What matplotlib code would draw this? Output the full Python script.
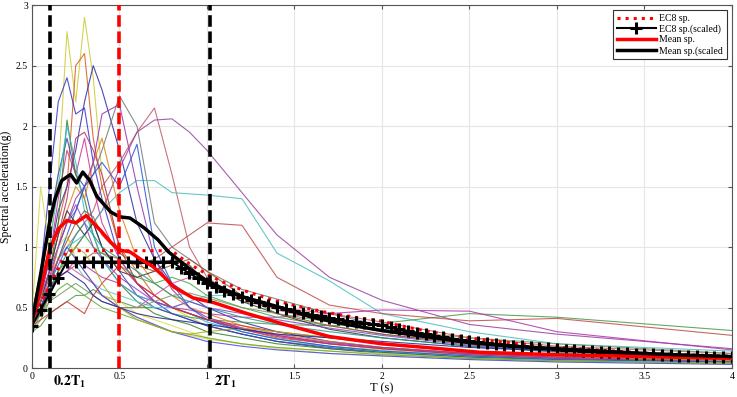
#!/usr/bin/env python3
"""
Spectral acceleration of the selected records vs EC8 spectrum
"""

import numpy as np
import matplotlib
matplotlib.use('Agg')
import matplotlib.pyplot as plt

plt.rcParams['font.family'] = ['Liberation Serif', 'DejaVu Serif']
plt.rcParams['mathtext.fontset'] = 'stix'

# Periods (s) used for the EC8 spectra (0.05 s step)
T_ec8 = np.round(np.arange(0, 4.001, 0.05), 2)

ec8_sa = [0.39, 0.535, 0.68, 0.825,
          0.97, 0.97, 0.97, 0.97, 0.97, 0.97, 0.97, 0.97, 0.97, 0.97, 0.97, 0.97, 0.97,
          0.913, 0.862, 0.817, 0.776, 0.739, 0.705, 0.675, 0.647, 0.621, 0.597, 0.575,
          0.554, 0.535, 0.517, 0.501, 0.485, 0.470, 0.456, 0.443, 0.431, 0.419, 0.408,
          0.398, 0.388, 0.369, 0.352, 0.336, 0.321, 0.307, 0.293, 0.281, 0.269, 0.259,
          0.248, 0.239, 0.230, 0.221, 0.213, 0.205, 0.198, 0.191, 0.185, 0.178, 0.172,
          0.167, 0.162, 0.156, 0.152, 0.147, 0.143, 0.138, 0.134, 0.130, 0.127, 0.123,
          0.120, 0.116, 0.113, 0.110, 0.107, 0.105, 0.102, 0.099, 0.097]

ec8_scaled_sa = [0.35, 0.483, 0.615, 0.748,
                 0.88, 0.88, 0.88, 0.88, 0.88, 0.88, 0.88, 0.88, 0.88, 0.88, 0.88, 0.88, 0.88,
                 0.828, 0.782, 0.741, 0.704, 0.670, 0.640, 0.612, 0.587, 0.563, 0.542, 0.521,
                 0.503, 0.486, 0.469, 0.454, 0.440, 0.427, 0.414, 0.402, 0.391, 0.381, 0.371,
                 0.361, 0.352, 0.335, 0.319, 0.305, 0.291, 0.278, 0.266, 0.255, 0.244, 0.235,
                 0.225, 0.217, 0.208, 0.200, 0.193, 0.186, 0.180, 0.173, 0.167, 0.162, 0.156,
                 0.151, 0.147, 0.142, 0.138, 0.133, 0.129, 0.125, 0.122, 0.118, 0.115, 0.112,
                 0.109, 0.106, 0.103, 0.100, 0.098, 0.095, 0.093, 0.090, 0.088]

# Mean spectrum of the records (red) and scaled mean (black)
T_mean = [0, 0.05, 0.1, 0.15, 0.2, 0.25, 0.31, 0.39, 0.45, 0.5, 0.56, 0.62, 0.69, 0.75,
          0.81, 0.92, 1.04, 1.23, 1.42, 1.7, 2.0, 2.25, 2.56, 3.0, 3.5, 4.0]
mean_sa = [0.38, 0.65, 0.98, 1.15, 1.22, 1.2, 1.26, 1.14, 1.04, 0.975, 0.96, 0.9, 0.84,
           0.76, 0.67, 0.58, 0.54, 0.45, 0.37, 0.26, 0.2, 0.17, 0.13, 0.11, 0.095, 0.08]

T_mean_sc = [0, 0.05, 0.1, 0.13, 0.17, 0.22, 0.255, 0.29, 0.33, 0.37, 0.45, 0.5, 0.56,
             0.64, 0.72, 0.78, 0.85, 0.9, 1.0, 1.1, 1.2, 1.3, 1.42, 1.6, 1.8, 2.0, 2.25,
             2.5, 2.75, 3.0, 3.25, 3.5, 3.75, 4.0]
mean_sc_sa = [0.38, 0.78, 1.2, 1.39, 1.55, 1.6, 1.53, 1.62, 1.55, 1.42, 1.29, 1.25, 1.24,
              1.16, 1.06, 0.96, 0.88, 0.82, 0.72, 0.65, 0.59, 0.55, 0.50, 0.42, 0.36, 0.31,
              0.26, 0.21, 0.18, 0.16, 0.14, 0.12, 0.105, 0.095]

# Individual record spectra, all on the same period grid
T_rec = [0, 0.05, 0.1, 0.15, 0.2, 0.25, 0.3, 0.35, 0.4, 0.5, 0.6, 0.7, 0.8, 0.9, 1.0,
         1.2, 1.4, 1.7, 2.0, 2.5, 3.0, 4.0]
records = [
    [0.5, 0.7, 1.0, 1.6, 2.78, 2.2, 2.9, 2.4, 1.6, 1.0, 0.7, 0.6, 0.5, 0.42, 0.35, 0.28, 0.22, 0.18, 0.15, 0.1, 0.08, 0.05],
    [0.4, 0.6, 0.9, 1.2, 1.5, 2.5, 2.6, 1.9, 1.5, 1.0, 0.8, 0.6, 0.5, 0.45, 0.4, 0.32, 0.25, 0.2, 0.16, 0.12, 0.09, 0.06],
    [0.45, 0.8, 1.5, 2.2, 2.4, 2.1, 2.15, 1.7, 1.4, 0.9, 0.7, 0.55, 0.45, 0.4, 0.35, 0.28, 0.22, 0.16, 0.12, 0.08, 0.06, 0.04],
    [0.4, 0.6, 0.9, 1.3, 1.5, 1.8, 2.2, 2.5, 2.3, 1.8, 1.2, 0.9, 0.7, 0.6, 0.5, 0.38, 0.3, 0.22, 0.17, 0.12, 0.09, 0.06],
    [0.4, 0.55, 0.8, 1.0, 1.2, 1.3, 1.5, 1.6, 1.8, 2.25, 2.0, 1.2, 1.0, 0.9, 0.8, 0.65, 0.57, 0.45, 0.35, 0.22, 0.16, 0.1],
    [0.4, 0.5, 0.7, 0.9, 1.0, 1.1, 1.2, 1.3, 1.5, 1.7, 1.95, 2.15, 1.6, 1.0, 0.75, 0.55, 0.5, 0.45, 0.38, 0.25, 0.18, 0.12],
    [0.35, 0.45, 0.6, 0.8, 0.9, 1.0, 1.1, 1.2, 1.3, 1.65, 1.95, 2.05, 2.06, 1.95, 1.8, 1.45, 1.1, 0.75, 0.56, 0.36, 0.28, 0.16],
    [0.35, 0.5, 0.7, 0.9, 1.0, 1.05, 1.1, 1.2, 1.3, 1.45, 1.55, 1.55, 1.45, 1.44, 1.43, 1.4, 0.95, 0.72, 0.45, 0.3, 0.2, 0.14],
    [0.3, 0.35, 0.45, 0.5, 0.55, 0.6, 0.6, 0.65, 0.6, 0.55, 0.5, 0.5, 0.45, 0.42, 0.4, 0.38, 0.36, 0.35, 0.37, 0.45, 0.42, 0.31],
    [0.35, 0.45, 0.6, 0.75, 0.8, 0.85, 0.9, 0.95, 0.95, 0.9, 0.85, 0.9, 1.0, 1.1, 1.2, 1.18, 0.75, 0.52, 0.45, 0.39, 0.41, 0.27],
    [0.35, 0.45, 0.6, 0.75, 0.8, 0.9, 0.85, 0.8, 0.75, 0.7, 0.6, 0.55, 0.5, 0.48, 0.45, 0.42, 0.42, 0.45, 0.48, 0.47, 0.3, 0.15],
    [0.45, 1.5, 1.0, 0.9, 1.1, 0.9, 0.8, 0.7, 0.6, 0.5, 0.42, 0.35, 0.3, 0.27, 0.24, 0.2, 0.16, 0.12, 0.1, 0.07, 0.05, 0.03],
    [0.4, 0.7, 1.2, 1.6, 1.9, 1.6, 1.5, 1.2, 1.0, 0.8, 0.6, 0.5, 0.45, 0.4, 0.35, 0.28, 0.22, 0.17, 0.13, 0.09, 0.07, 0.05],
    [0.4, 0.6, 0.9, 1.4, 1.8, 1.6, 1.9, 1.5, 1.2, 0.9, 0.7, 0.6, 0.5, 0.45, 0.4, 0.33, 0.27, 0.2, 0.16, 0.11, 0.08, 0.05],
    [0.35, 0.55, 0.8, 1.2, 2.05, 1.6, 1.4, 1.1, 0.9, 0.7, 0.55, 0.45, 0.4, 0.36, 0.3, 0.25, 0.2, 0.16, 0.13, 0.09, 0.07, 0.05],
    [0.35, 0.6, 1.0, 1.5, 2.0, 1.7, 1.3, 1.1, 0.9, 0.7, 0.6, 0.55, 0.5, 0.45, 0.38, 0.3, 0.24, 0.18, 0.14, 0.1, 0.07, 0.05],
    [0.4, 0.6, 0.8, 1.1, 1.4, 1.9, 1.95, 1.8, 1.6, 1.0, 0.7, 0.55, 0.5, 0.45, 0.4, 0.32, 0.26, 0.2, 0.16, 0.11, 0.08, 0.05],
    [0.35, 0.5, 0.7, 1.0, 1.3, 1.5, 1.4, 1.7, 1.9, 1.3, 0.9, 0.7, 0.6, 0.5, 0.45, 0.35, 0.28, 0.22, 0.17, 0.12, 0.09, 0.06],
    [0.4, 0.55, 0.75, 1.0, 1.2, 1.4, 1.5, 1.7, 2.1, 2.18, 1.5, 0.9, 0.65, 0.5, 0.42, 0.33, 0.27, 0.21, 0.17, 0.12, 0.09, 0.06],
    [0.35, 0.5, 0.7, 0.9, 1.1, 1.3, 1.5, 1.6, 1.7, 1.5, 1.85, 1.0, 0.7, 0.5, 0.4, 0.3, 0.24, 0.18, 0.14, 0.1, 0.07, 0.05],
    [0.3, 0.45, 0.6, 0.8, 0.9, 1.0, 1.1, 1.0, 0.95, 0.85, 0.75, 0.7, 0.75, 0.7, 0.6, 0.5, 0.42, 0.35, 0.28, 0.2, 0.14, 0.08],
    [0.4, 0.6, 0.8, 1.0, 1.1, 0.9, 0.8, 0.7, 0.6, 0.55, 0.45, 0.4, 0.35, 0.3, 0.25, 0.2, 0.17, 0.14, 0.12, 0.08, 0.06, 0.04],
    [0.4, 0.55, 0.8, 1.1, 1.3, 1.2, 1.1, 1.2, 1.0, 0.8, 0.75, 0.8, 0.9, 0.85, 0.7, 0.55, 0.45, 0.32, 0.25, 0.18, 0.14, 0.09],
    [0.35, 0.5, 0.65, 0.8, 0.9, 0.85, 0.75, 0.7, 0.65, 0.6, 0.55, 0.5, 0.5, 0.55, 0.6, 0.6, 0.5, 0.4, 0.3, 0.22, 0.16, 0.1],
    [0.4, 0.55, 0.75, 0.9, 0.85, 0.8, 0.75, 0.7, 0.6, 0.5, 0.5, 0.6, 0.7, 0.75, 0.72, 0.6, 0.48, 0.38, 0.3, 0.2, 0.15, 0.1],
    [0.35, 0.5, 0.7, 0.85, 1.0, 0.9, 0.8, 0.7, 0.6, 0.5, 0.42, 0.36, 0.3, 0.26, 0.22, 0.18, 0.15, 0.12, 0.1, 0.07, 0.05, 0.03],
    [0.3, 0.4, 0.55, 0.65, 0.7, 0.65, 0.6, 0.55, 0.5, 0.45, 0.4, 0.35, 0.3, 0.28, 0.25, 0.2, 0.17, 0.14, 0.11, 0.08, 0.06, 0.04],
    [0.35, 0.4, 0.45, 0.5, 0.55, 0.5, 0.45, 0.6, 0.7, 0.85, 0.7, 0.6, 0.5, 0.45, 0.4, 0.35, 0.3, 0.25, 0.2, 0.14, 0.1, 0.07],
    [0.35, 0.5, 0.65, 0.8, 0.9, 1.0, 0.95, 0.85, 0.7, 0.5, 0.4, 0.35, 0.3, 0.28, 0.3, 0.33, 0.3, 0.25, 0.2, 0.14, 0.1, 0.06],
    [0.4, 0.55, 0.7, 0.9, 1.05, 1.2, 1.3, 1.25, 1.1, 0.95, 0.85, 0.8, 0.85, 0.9, 0.8, 0.6, 0.45, 0.35, 0.28, 0.2, 0.14, 0.09],
    [0.35, 0.5, 0.65, 0.8, 0.95, 1.1, 1.2, 1.1, 1.0, 0.9, 0.8, 0.7, 0.6, 0.55, 0.5, 0.42, 0.36, 0.3, 0.25, 0.18, 0.13, 0.08],
    [0.4, 0.6, 0.8, 1.0, 1.2, 1.35, 1.2, 1.0, 0.9, 0.75, 0.65, 0.55, 0.5, 0.55, 0.5, 0.45, 0.4, 0.33, 0.27, 0.19, 0.14, 0.09],
    [0.35, 0.45, 0.55, 0.6, 0.65, 0.7, 0.65, 0.6, 0.55, 0.5, 0.5, 0.55, 0.6, 0.62, 0.58, 0.5, 0.45, 0.38, 0.32, 0.25, 0.2, 0.12],
    [0.4, 0.5, 0.65, 0.75, 0.8, 0.75, 0.7, 0.6, 0.55, 0.5, 0.45, 0.42, 0.4, 0.38, 0.36, 0.32, 0.28, 0.25, 0.22, 0.17, 0.14, 0.1],
]
record_colors = [
    '#cccc33', '#d9591a', '#3333cc', '#2b2ba6', '#777777', '#c05a66', '#9a40a0',
    '#4cbfbf', '#4c994c', '#c04c4c', '#b033b0', '#d9d94c', '#3344bb', '#cc3399',
    '#33802b', '#33bbcc', '#b33366', '#e0801a', '#9933aa', '#2255dd', '#44aa44',
    '#dddd55', '#333333', '#55cccc', '#dd55aa', '#4444ee', '#66aa33', '#cc3333',
    '#aaaa22', '#995533', '#229988', '#8844cc', '#779966', '#222288',
]

# vertical reference periods: 0.2T1, T=0.5 s and 2T1
T1 = 0.51

fig = plt.figure(figsize=(7.37, 3.97), dpi=100)
ax = fig.add_axes([0.0434, 0.073, 0.9498, 0.914])

for sa, col in zip(records, record_colors):
    ax.plot(T_rec, sa, color=col, lw=0.8, alpha=0.85)

ax.plot(T_ec8, ec8_sa, color='red', linestyle=':', lw=2.2, label='EC8 sp.')
ax.plot(T_ec8, ec8_scaled_sa, color='black', lw=1.5, marker='+', ms=8, mew=2.2,
        label='EC8 sp.(scaled)')
ax.plot(T_mean, mean_sa, color='red', lw=2.5, label='Mean sp.')
ax.plot(T_mean_sc, mean_sc_sa, color='black', lw=2.5, label='Mean sp.(scaled')

for xv, col in [(0.2 * T1, 'black'), (0.5, 'red'), (2 * T1, 'black')]:
    ax.plot([xv, xv], [0, 3], color=col, lw=2.6, linestyle=(0, (3.2, 1.3)), zorder=5)

ax.set_xlim(0, 4)
ax.set_ylim(0, 3)
ax.set_xticks(np.arange(0, 4.01, 0.5))
ax.set_xticklabels(['0', '0.5', '1', '1.5', '2', '2.5', '3', '3.5', '4'])
ax.set_yticks(np.arange(0, 3.01, 0.5))
ax.set_yticklabels(['0', '0.5', '1', '1.5', '2', '2.5', '3'])
ax.tick_params(direction='in', length=3, labelsize=7, top=True, right=True,
               color='#555555', pad=3)
ax.grid(True, color='#e6e6e6', lw=0.8)
ax.set_axisbelow(True)
for sp in ax.spines.values():
    sp.set_color('#555555')
    sp.set_linewidth(0.8)

ax.set_xlabel('T (s)', fontsize=9, labelpad=1)
ax.set_ylabel('Spectral acceleration(g)', fontsize=8.5)
ax.yaxis.set_label_coords(-0.028, 0.5)

ax.text(0.2 * T1 + 0.02, -0.05, r'$\mathbf{0.2T_1}$', fontsize=10, va='top', ha='left',
        clip_on=False)
ax.text(2 * T1 + 0.02, -0.05, r'$\mathbf{2T_1}$', fontsize=10, va='top', ha='left',
        clip_on=False)

leg = ax.legend(loc='upper right', fontsize=7, handlelength=4.0, borderaxespad=0.5,
                fancybox=False, framealpha=1, edgecolor='#333333',
                labelspacing=0.15, handletextpad=0.4)
leg.get_frame().set_linewidth(0.8)

plt.savefig('out.png', dpi=100)
